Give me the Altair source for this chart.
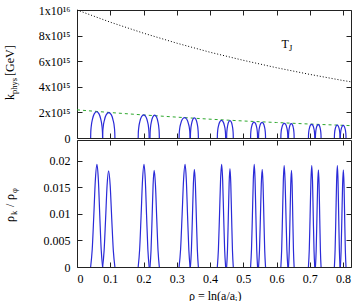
import altair as alt
import pandas as pd

FONT = "Liberation Serif"

# ---------------- data ----------------
rho_curve = [0.0, 0.1, 0.2, 0.3, 0.4, 0.5, 0.6, 0.7, 0.8, 0.824]
t_j = [1.0e16, 9.05e15, 8.19e15, 7.41e15, 6.70e15, 6.07e15, 5.49e15, 4.97e15, 4.49e15, 4.39e15]
k_edge = [2.20e15, 1.99e15, 1.80e15, 1.63e15, 1.47e15, 1.33e15, 1.21e15, 1.09e15, 0.99e15, 0.965e15]

band_start = [0.041, 0.077, 0.184, 0.2195, 0.307, 0.341, 0.422, 0.450, 0.522, 0.546, 0.613, 0.636, 0.696, 0.717, 0.774, 0.792]
band_peak = [0.060, 0.095, 0.2015, 0.232, 0.325, 0.353, 0.435, 0.460, 0.533, 0.557, 0.623, 0.645, 0.706, 0.726, 0.783, 0.801]
band_end = [0.077, 0.114, 0.217, 0.2476, 0.340, 0.365, 0.447, 0.470, 0.543, 0.567, 0.634, 0.653, 0.715, 0.734, 0.791, 0.809]
k_height = [2.05e15, 1.98e15, 1.80e15, 1.78e15, 1.59e15, 1.57e15, 1.37e15, 1.35e15,
            1.24e15, 1.22e15, 1.15e15, 1.13e15, 1.07e15, 1.05e15, 1.00e15, 0.98e15]
ratio_height = [0.0193, 0.0181, 0.0193, 0.0182, 0.0193, 0.0184, 0.0193, 0.0185,
                0.0193, 0.0184, 0.0191, 0.0182, 0.0191, 0.0183, 0.0191, 0.0183]

# arch profile of the k bands (fraction of width, fraction of height)
arch_u = [0.0, 0.01, 0.05, 0.15, 0.3, 0.5, 0.7, 0.85, 0.95, 0.99, 1.0]
arch_v = [0.0, 0.2, 0.44, 0.71, 0.92, 1.0, 0.92, 0.71, 0.44, 0.2, 0.0]
# peak profile of the energy ratio (fraction of rise, fraction of height)
peak_u = [0.0, 0.25, 0.5, 0.75, 1.0]
peak_v = [0.0, 0.17, 0.5, 0.85, 1.0]

x_ticks = [0, 0.1, 0.2, 0.3, 0.4, 0.5, 0.6, 0.7, 0.8]
k_ticks = [0, 2e15, 4e15, 6e15, 8e15, 1e16]
r_ticks = [0, 0.005, 0.01, 0.015, 0.02]

tj_label_x = [0.615]
tj_label_y = [7.0e15]

# ---------------- tables ----------------
curves = pd.DataFrame({"rho": rho_curve, "tj": t_j, "edge": k_edge})

arch_rows = []
for i, (s, e, h) in enumerate(zip(band_start, band_end, k_height)):
    for j, (u, v) in enumerate(zip(arch_u, arch_v)):
        arch_rows.append({"band": i, "o": j, "rho": s + u * (e - s), "k": v * h})
arches = pd.DataFrame(arch_rows)

peak_rows = []
for i, (s, p, e, h) in enumerate(zip(band_start, band_peak, band_end, ratio_height)):
    n = 0
    for u, v in zip(peak_u, peak_v):
        peak_rows.append({"band": i, "o": n, "rho": s + u * (p - s), "r": v * h}); n += 1
    for u, v in zip(peak_u[-2::-1], peak_v[-2::-1]):
        peak_rows.append({"band": i, "o": n, "rho": e - u * (e - p), "r": v * h}); n += 1
peaks = pd.DataFrame(peak_rows)

W, H1, H2 = 274, 128, 127
xs = alt.Scale(domain=[0, 0.824], nice=False, zero=False)
ks = alt.Scale(domain=[0, 1e16], nice=False)
rs = alt.Scale(domain=[0, 0.0239], nice=False)

BLUE = "#2a2ad8"
GREEN = "#2ea82e"


def ax(orient, values, labels=True, fmt=None, expr=None, pad=7):
    kw = dict(orient=orient, values=values, labels=labels, tickSize=5, offset=-5,
              domain=False, grid=False, ticks=True, tickColor="#222222", tickWidth=1,
              labelFont=FONT, labelFontSize=12, labelColor="black", labelPadding=pad, title=None)
    if fmt:
        kw["format"] = fmt
    if expr:
        kw["labelExpr"] = expr
    return alt.Axis(**kw)


k_expr = ("datum.value == 0 ? '0' : datum.value >= 9e15 ? '1x10¹⁶' : "
          "format(datum.value / 1e15, 'd') + 'x10¹⁵'")

# ---------------- top panel ----------------
tj_line = alt.Chart(curves).mark_line(color="black", strokeDash=[1, 2], strokeWidth=1).encode(
    x=alt.X("rho:Q", scale=xs, axis=ax("bottom", x_ticks, labels=False)),
    y=alt.Y("tj:Q", scale=ks, axis=ax("left", k_ticks, expr=k_expr)),
)
edge_line = alt.Chart(curves).mark_line(color=GREEN, strokeDash=[3, 3], strokeWidth=1).encode(
    x=alt.X("rho:Q", scale=xs, axis=None),
    y=alt.Y("edge:Q", scale=ks, axis=None),
)
arch_line = alt.Chart(arches).mark_line(color=BLUE, strokeWidth=1.2, interpolate="monotone").encode(
    x=alt.X("rho:Q", scale=xs, axis=None),
    y=alt.Y("k:Q", scale=ks, axis=None),
    detail="band:N",
    order="o:Q",
)
top_mirror = alt.Chart(curves).mark_point(opacity=0, size=0).encode(
    x=alt.X("rho:Q", scale=xs, axis=ax("top", x_ticks, labels=False)),
    y=alt.Y("tj:Q", scale=ks, axis=ax("right", k_ticks, labels=False)),
)
tj_df = pd.DataFrame({"x": tj_label_x, "y": tj_label_y})
tj_T = alt.Chart(tj_df).mark_text(text="T", font=FONT, fontSize=12, align="left", baseline="alphabetic", color="black").encode(
    x=alt.X("x:Q", scale=xs, axis=None), y=alt.Y("y:Q", scale=ks, axis=None))
tj_J = alt.Chart(tj_df).mark_text(text="J", font=FONT, fontSize=8.5, align="left", baseline="alphabetic", dx=7.5, dy=3, color="black").encode(
    x=alt.X("x:Q", scale=xs, axis=None), y=alt.Y("y:Q", scale=ks, axis=None))

lab = pd.DataFrame({"a": [0]})


def piece(txt, fs, xv, yv, angle=None):
    kw = dict(text=txt, font=FONT, fontSize=fs, align="left", baseline="alphabetic", color="black")
    if angle is not None:
        kw["angle"] = angle
    return alt.Chart(lab).mark_text(**kw).encode(x=alt.value(xv), y=alt.value(yv))


k_title = [piece("k", 12, -63, 90, 270), piece("phys", 8.5, -60, 84, 270), piece("[GeV]", 12, -63, 66, 270)]

top = alt.layer(tj_line, edge_line, arch_line, tj_T, tj_J, *k_title, top_mirror).resolve_scale(
    x="independent", y="independent").properties(width=W, height=H1)

# ---------------- bottom panel ----------------
peak_line = alt.Chart(peaks).mark_line(color=BLUE, strokeWidth=1.2, interpolate="monotone").encode(
    x=alt.X("rho:Q", scale=xs, axis=ax("bottom", x_ticks, fmt="~g", pad=6)),
    y=alt.Y("r:Q", scale=rs, axis=ax("left", r_ticks, fmt="~g")),
    detail="band:N",
    order="o:Q",
)
bot_mirror = alt.Chart(peaks).mark_point(opacity=0, size=0).encode(
    x=alt.X("rho:Q", scale=xs, axis=ax("top", x_ticks, labels=False)),
    y=alt.Y("r:Q", scale=rs, axis=ax("right", r_ticks, labels=False)),
)
r_title = [piece("ρ", 12, -63, 82, 270), piece("k", 8.5, -60, 75, 270), piece("/", 12, -63, 67, 270),
           piece("ρ", 12, -63, 60, 270), piece("φ", 8.5, -60, 53, 270)]
x_title = [piece("ρ = ln(a/a", 12, 112, 160), piece("i", 8.5, 158, 163), piece(")", 12, 160.5, 160)]

bottom = alt.layer(peak_line, *r_title, *x_title, bot_mirror).resolve_scale(
    x="independent", y="independent").properties(width=W, height=H2)

chart = alt.vconcat(top, bottom, spacing=2, bounds="flush").configure_view(
    stroke="#222222", strokeWidth=1
).properties(
    autosize=alt.AutoSizeParams(type="none"),
    padding={"left": 77, "top": 10, "right": 4, "bottom": 291},
    background="white",
)

chart.save("out.html", embed_options={"renderer": "svg", "actions": False})
